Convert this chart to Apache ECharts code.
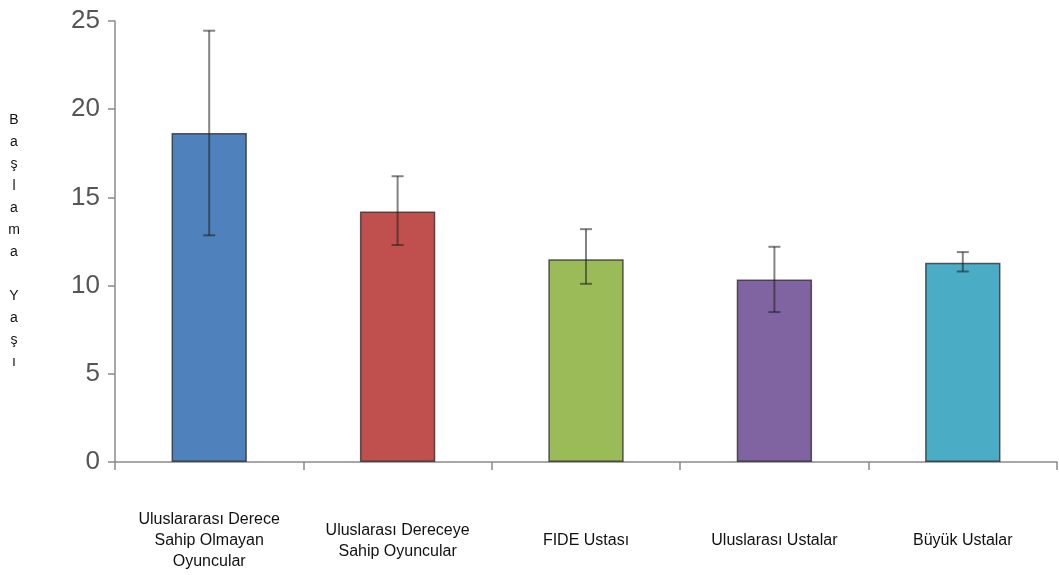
<!DOCTYPE html>
<html>
<head>
<meta charset="utf-8">
<script src="https://cdn.jsdelivr.net/npm/echarts@6/dist/echarts.min.js"></script>
<style>html,body{margin:0;padding:0;background:#fff;}#c{width:1059px;height:575px;}</style>
</head>
<body>
<div id="c"></div>
<script>
const categories = [
  'Uluslararası Derece\nSahip Olmayan\nOyuncular',
  'Uluslarası Dereceye\nSahip Oyuncular',
  'FIDE Ustası',
  'Uluslarası Ustalar',
  'Büyük Ustalar'
];
const means = [18.65, 14.2, 11.5, 10.35, 11.3];
const errLow = [12.85, 12.3, 10.1, 8.5, 10.8];
const errHigh = [24.45, 16.2, 13.2, 12.2, 11.9];
const barColors = ['#4F81BD', '#C0504D', '#9BBB59', '#8064A2', '#4BACC6'];
const yTicks = [0, 5, 10, 15, 20, 25];
const yAxisTitle = 'Başlama Yaşı';

const chart = echarts.init(document.getElementById('c'));
const errData = categories.map((c, i) => [i, errLow[i], errHigh[i]]);

chart.setOption({
  animation: false,
  grid: { left: 115, right: 2, top: 21, bottom: 113 },
  xAxis: {
    type: 'category',
    data: categories,
    axisLine: { lineStyle: { color: '#8a8a8a', width: 1.5 } },
    axisTick: { show: true, length: 8, inside: false, lineStyle: { color: '#8a8a8a', width: 1.5 } },
    axisLabel: {
      interval: 0,
      color: '#111',
      fontFamily: 'Liberation Sans, Arial, sans-serif',
      fontSize: 16,
      lineHeight: 21,
      margin: 79,
      verticalAlign: 'middle'
    }
  },
  yAxis: {
    type: 'value',
    min: yTicks[0],
    max: yTicks[yTicks.length - 1],
    interval: 5,
    name: yAxisTitle.split('').join('\n'),
    nameLocation: 'middle',
    nameRotate: 0,
    nameGap: 101,
    nameTextStyle: {
      color: '#111',
      fontFamily: 'Liberation Sans, Arial, sans-serif',
      fontSize: 14,
      lineHeight: 22,
      align: 'center',
      verticalAlign: 'middle'
    },
    axisLine: { show: true, lineStyle: { color: '#8a8a8a', width: 1.5 } },
    axisTick: { show: true, length: 7, lineStyle: { color: '#8a8a8a', width: 1.5 } },
    splitLine: { show: false },
    axisLabel: {
      color: '#555',
      fontFamily: 'Liberation Sans, Arial, sans-serif',
      fontSize: 26,
      margin: 15
    }
  },
  series: [
    {
      type: 'bar',
      barWidth: '40%',
      data: means.map((v, i) => ({
        value: v,
        itemStyle: { color: barColors[i], borderColor: 'rgba(40,40,40,0.75)', borderWidth: 1.5 }
      }))
    },
    {
      type: 'custom',
      data: errData,
      z: 10,
      renderItem: function (params, api) {
        const x = api.value(0);
        const lo = api.coord([x, api.value(1)]);
        const hi = api.coord([x, api.value(2)]);
        const hw = 6;
        const style = { stroke: 'rgba(30,30,30,0.55)', lineWidth: 2, fill: null };
        return {
          type: 'group',
          children: [
            { type: 'line', shape: { x1: hi[0], y1: hi[1], x2: lo[0], y2: lo[1] }, style: style },
            { type: 'line', shape: { x1: hi[0] - hw, y1: hi[1], x2: hi[0] + hw, y2: hi[1] }, style: style },
            { type: 'line', shape: { x1: lo[0] - hw, y1: lo[1], x2: lo[0] + hw, y2: lo[1] }, style: style }
          ]
        };
      }
    }
  ]
});
</script>
</body>
</html>
